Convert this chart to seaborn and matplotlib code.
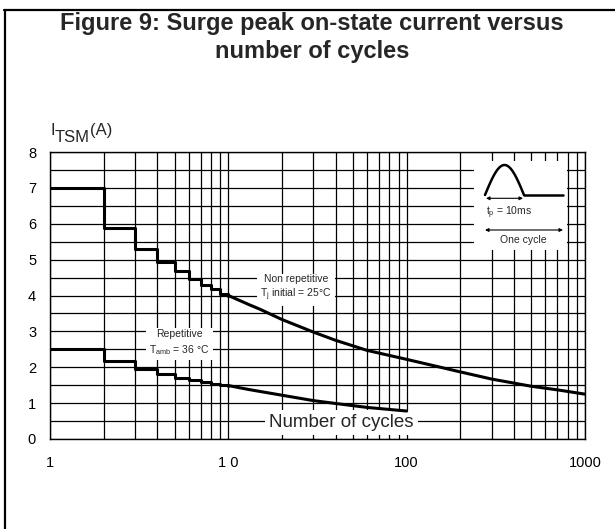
import numpy as np
import pandas as pd
import matplotlib
matplotlib.use("Agg")
import matplotlib.pyplot as plt
from matplotlib.ticker import FixedLocator, NullFormatter, LogLocator, NullLocator
from matplotlib.lines import Line2D
import seaborn as sns

# ---------------- data ----------------
step_cycles = [1, 2, 3, 4, 5, 6, 7, 8, 9, 10]
nonrep_steps = [7.0, 5.88, 5.31, 4.94, 4.68, 4.45, 4.30, 4.17, 4.03, 4.0]
rep_steps = [2.52, 2.17, 1.96, 1.82, 1.71, 1.64, 1.59, 1.54, 1.50, 1.49]

nonrep_cycles = [10, 13, 15, 20, 30, 40, 60, 100, 200, 300, 500, 700, 1000]
nonrep_current = [4.0, 3.75, 3.62, 3.33, 2.98, 2.75, 2.47, 2.22, 1.87, 1.67, 1.47, 1.37, 1.25]

rep_cycles = [10, 13, 20, 30, 40, 60, 100]
rep_current = [1.49, 1.38, 1.22, 1.07, 0.99, 0.88, 0.78]

y_ticks = [0, 1, 2, 3, 4, 5, 6, 7, 8]
x_ticks = [1, 10, 100, 1000]
x_tick_labels = ["1", "1 0", "100", "1000"]

title_lines = ["Figure 9: Surge peak on-state current versus", "number of cycles"]

# ---------------- style ----------------
sns.set_theme(style="white")
plt.rcParams["font.family"] = ["Liberation Sans", "DejaVu Sans"]
plt.rcParams["mathtext.fontset"] = "custom"
plt.rcParams["mathtext.rm"] = "Liberation Sans"

W, H = 615, 529
fig = plt.figure(figsize=(W / 100, H / 100), dpi=100)

def fx(px):
    return px / W

def fy(py):
    return 1 - py / H

ax_l, ax_r, ax_t, ax_b = 50, 585, 152, 439
ax = fig.add_axes([fx(ax_l), fy(ax_b), fx(ax_r - ax_l), (ax_b - ax_t) / H])
ax.set_facecolor("white")

# curves
df_ns = pd.DataFrame({"cycles": step_cycles, "current": nonrep_steps})
df_rs = pd.DataFrame({"cycles": step_cycles, "current": rep_steps})
df_n = pd.DataFrame({"cycles": nonrep_cycles, "current": nonrep_current})
df_r = pd.DataFrame({"cycles": rep_cycles, "current": rep_current})

lw = 2.2
for d, ds in [(df_ns, "steps-post"), (df_rs, "steps-post"), (df_n, "default"), (df_r, "default")]:
    sns.lineplot(data=d, x="cycles", y="current", ax=ax, color="black", lw=lw,
                 estimator=None, sort=False, drawstyle=ds, zorder=5)

ax.set_xscale("log")
ax.set_xlim(1, 1000)
ax.set_ylim(0, 8)
ax.xaxis.set_major_locator(FixedLocator(x_ticks))
ax.set_xticklabels(x_tick_labels)
ax.xaxis.set_minor_locator(LogLocator(base=10, subs=np.arange(2, 10)))
ax.xaxis.set_minor_formatter(NullFormatter())
ax.yaxis.set_major_locator(FixedLocator(y_ticks))
ax.yaxis.set_minor_locator(FixedLocator(np.arange(0.5, 8, 1.0)))
ax.set_yticklabels([str(v) for v in y_ticks])
ax.grid(True, which="both", color="black", lw=0.9)
ax.set_axisbelow(True)
ax.tick_params(which="both", length=0)
ax.tick_params(axis="x", labelsize=10.5, pad=12, colors="black")
ax.tick_params(axis="y", labelsize=10.5, pad=10, colors="black")
for s in ax.spines.values():
    s.set_color("black")
    s.set_linewidth(1.0)
ax.set_xlabel("")
ax.set_ylabel("")

# annotations
box = dict(facecolor="white", edgecolor="none", pad=2.5)
ax.text(24.0, 4.2, "Non repetitive\nT$_{\\rm j}$ initial = 25°C", ha="center", va="center",
        fontsize=7.5, linespacing=1.25, bbox=box, zorder=4)
ax.text(5.3, 2.68, "Repetitive\nT$_{\\rm amb}$ = 36 °C", ha="center", va="center",
        fontsize=7.5, linespacing=1.35, bbox=box, zorder=4)
ax.text(43, 0.45, "Number of cycles", ha="center", va="center", fontsize=13.5,
        bbox=dict(facecolor="white", edgecolor="none", pad=3), zorder=4)

# inset waveform
ins_l, ins_r, ins_t, ins_b = 474, 567, 161, 250
ins = fig.add_axes([fx(ins_l), fy(ins_b), fx(ins_r - ins_l), (ins_b - ins_t) / H])
ins.set_facecolor("white")
ins.set_xlim(ins_l, ins_r)
ins.set_ylim(ins_b, ins_t)
ins.xaxis.set_major_locator(NullLocator())
ins.yaxis.set_major_locator(NullLocator())
for s in ins.spines.values():
    s.set_visible(False)
ins.grid(False)
ins.set_zorder(5)
t = np.linspace(0, np.pi, 60)
ins.plot(485 + (524 - 485) * t / np.pi, 195 - 30 * np.sin(t), color="black", lw=1.8)
ins.plot([524, 563], [195, 195], color="black", lw=1.8)
ins.annotate("", xy=(486, 198.3), xytext=(523, 198.3),
             arrowprops=dict(arrowstyle="<|-|>", color="black", lw=0.8, mutation_scale=5, shrinkA=0, shrinkB=0))
ins.text(486, 212.3, "t$_{\\rm p}$ = 10ms", ha="left", va="center", fontsize=7.5)
ins.annotate("", xy=(485, 230), xytext=(563, 230),
             arrowprops=dict(arrowstyle="<|-|>", color="black", lw=0.8, mutation_scale=5, shrinkA=0, shrinkB=0))
ins.text(523, 240, "One cycle", ha="center", va="center", fontsize=7.5)

# y label pieces
fig.text(fx(50), fy(135), "I", fontsize=12, ha="left", va="baseline")
fig.text(fx(55), fy(141.7), "TSM", fontsize=12, ha="left", va="baseline")
fig.text(fx(90), fy(135), "(A)", fontsize=12, ha="left", va="baseline")

# title
fig.text(fx(312), fy(30), title_lines[0], fontsize=17, fontweight="bold", ha="center", va="baseline")
fig.text(fx(312), fy(58), title_lines[1], fontsize=17, fontweight="bold", ha="center", va="baseline")

# frame (left and top rules)
fig.add_artist(Line2D([fx(5), fx(5)], [fy(10), 0], color="black", lw=1.6, transform=fig.transFigure))
fig.add_artist(Line2D([fx(4.2), 1], [fy(10), fy(10)], color="black", lw=1.6, transform=fig.transFigure))

fig.savefig("out.png", dpi=100)
